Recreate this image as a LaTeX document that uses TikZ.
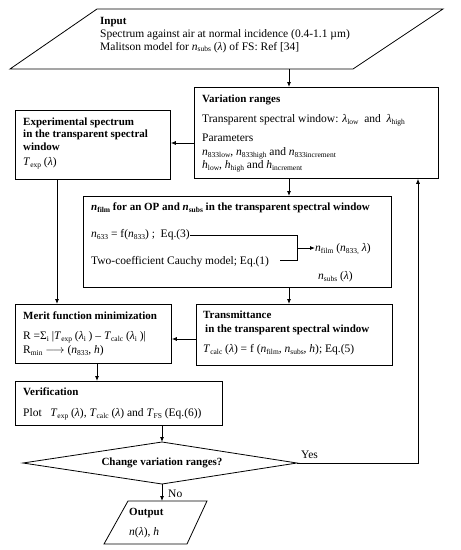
\documentclass[tikz,border=0pt]{standalone}
\usepackage{fontspec}
\setmainfont{Liberation Serif}
\usetikzlibrary{arrows.meta}
\newcommand{\lam}{\textit{λ}}
\newcommand{\sbs}[1]{\raisebox{-0.3ex}{\fontsize{7.5}{8}\selectfont #1}}
\newcommand{\tb}[1]{{\fontsize{11}{13}\selectfont\bfseries #1}}
\begin{document}
\begin{tikzpicture}[x=1pt,y=-1pt,
  box/.style={draw, line width=0.8pt, anchor=north west, inner sep=0pt},
  txt/.style={anchor=base west, inner sep=0pt, font=\fontsize{11.5}{13}\selectfont},
  arr/.style={-{Latex[length=5pt,width=4pt]}, line width=0.8pt},
  ln/.style={line width=0.8pt}]
\useasboundingbox (0,0) rectangle (461,550);
% input
\coordinate (inTL) at (97,9); \coordinate (inTR) at (443,9);
\coordinate (inBR) at (353,69); \coordinate (inBL) at (10,69);
\draw[ln] (inTL) -- (inTR) -- (inBR) -- (inBL) -- cycle;
\node[txt] (in1) at (100,24.5) {\tb{Input}};
\node[txt] (in2) at (100,37) {Spectrum against air at normal incidence (0.4-1.1 µm)};
\node[txt] (in3) at (100,50) {Malitson model for \textit{n}\sbs{subs} (\lam) of FS: Ref [34]};
\coordinate (inB) at (289,69);
% boxes
\node[box, minimum width=244, minimum height=91] (var) at (194,87) {};
\node[box, minimum width=155, minimum height=69] (exp) at (15,110) {};
\node[box, minimum width=308, minimum height=91] (nfilm) at (83,196) {};
\node[box, minimum width=156, minimum height=59] (merit) at (15,304) {};
\node[box, minimum width=196, minimum height=61] (trans) at (196,304) {};
\node[box, minimum width=207, minimum height=44] (verif) at (15,381) {};
% var texts
\node[txt] at (202,102.5) {\tb{Variation ranges}};
\node[txt] at (202,122.5) {Transparent spectral window: \lam\sbs{low}\ \ and\ \ \lam\sbs{high}};
\node[txt] at (202,141) {Parameters};
\node[txt] at (202,155.5) {\textit{n}\sbs{833low}, \textit{n}\sbs{833high} and \textit{n}\sbs{833increment}};
\node[txt] at (202,168.5) {\textit{h}\sbs{low}, \textit{h}\sbs{high} and \textit{h}\sbs{increment}};
% exp texts
\node[txt] at (23,125.5) {\tb{Experimental spectrum}};
\node[txt] at (23,137.5) {\tb{in the transparent spectral}};
\node[txt] at (23,150.5) {\tb{window}};
\node[txt] at (23,165.5) {\textit{T}\sbs{exp} (\lam)};
% nfilm texts
\node[txt] at (91,210.5) {\tb{\textit{n}\sbs{\bfseries film} for an OP and \textit{n}\sbs{\bfseries subs} in the transparent spectral window}};
\node[txt] (eq3) at (91,237.5) {\textit{n}\sbs{633} = f(\textit{n}\sbs{833}) ;\ \ Eq.(3)};
\node[txt] (eq1) at (91,264.5) {Two-coefficient Cauchy model; Eq.(1)};
\node[txt] (nf) at (315,251.5) {\textit{n}\sbs{film} (\textit{n}\sbs{833,} \lam)};
\node[txt] at (318,279.5) {\textit{n}\sbs{subs} (\lam)};
\coordinate (brT) at (297,235); \coordinate (brB) at (297,260); \coordinate (brM) at (297,248);
\draw[ln] (eq3.east |- brT) -- (brT) -- (brB) -- (280,260);
\draw[arr] (brM) -- (nf.west |- brM);
% merit texts
\node[txt] at (23,319.5) {\tb{Merit function minimization}};
\node[txt] at (23,339.5) {R =Σ\sbs{i} |\textit{T}\sbs{exp} (\lam\sbs{i} ) – \textit{T}\sbs{calc} (\lam\sbs{i} )|};
\node[txt] at (23,353.5) {R\sbs{min} $\longrightarrow$ (\textit{n}\sbs{833}, \textit{h})};
% trans texts
\node[txt] at (203,318.5) {\tb{Transmittance}};
\node[txt] at (205,332.5) {\tb{in the transparent spectral window}};
\node[txt] at (203,352.5) {\textit{T}\sbs{calc} (\lam) = f (\textit{n}\sbs{film}, \textit{n}\sbs{subs}, \textit{h}); Eq.(5)};
% verif texts
\node[txt] at (23,395.5) {\tb{Verification}};
\node[txt] at (23,416.5) {Plot\ \ \ \textit{T}\sbs{exp} (\lam), \textit{T}\sbs{calc} (\lam) and \textit{T}\sbs{FS} (Eq.(6))};
% diamond
\coordinate (dT) at (162,442); \coordinate (dR) at (297,463);
\coordinate (dB) at (162,484); \coordinate (dL) at (23,463);
\draw[ln] (dT) -- (dR) -- (dB) -- (dL) -- cycle;
\node[inner sep=0pt] (dec) at (162,463) {\tb{Change variation ranges?}};
% output
\coordinate (oTL) at (128,501); \coordinate (oTR) at (207,501);
\coordinate (oBR) at (187,544); \coordinate (oBL) at (104,544);
\draw[ln] (oTL) -- (oTR) -- (oBR) -- (oBL) -- cycle;
\node[txt] at (129,515.5) {\tb{Output}};
\node[txt] at (129,535.5) {\textit{n}(\lam), \textit{h}};
% connectors
\draw[arr] (inB) -- (inB |- var.north);
\draw[arr] (var.west |- 0,143) -- (exp.east |- 0,143);
\draw[arr] (var.south -| 289,0) -- (nfilm.north -| 289,0);
\draw[arr] (exp.south -| 57,0) -- (merit.north -| 57,0);
\draw[arr] (nfilm.south -| 289,0) -- (trans.north -| 289,0);
\draw[arr] (trans.west |- 0,339) -- (merit.east |- 0,339);
\draw[arr] (merit.south -| 97,0) -- (verif.north -| 97,0);
\draw[arr] (verif.south -| dT) -- (dT);
\coordinate (yc) at (418,463);
\draw[arr] (dR) -- (yc) -- (var.south -| yc);
\node[txt] at (301,458) {Yes};
\draw[arr] (dB) -- (dB |- oTL);
\node[txt] at (168,497) {No};
\end{tikzpicture}
\end{document}
